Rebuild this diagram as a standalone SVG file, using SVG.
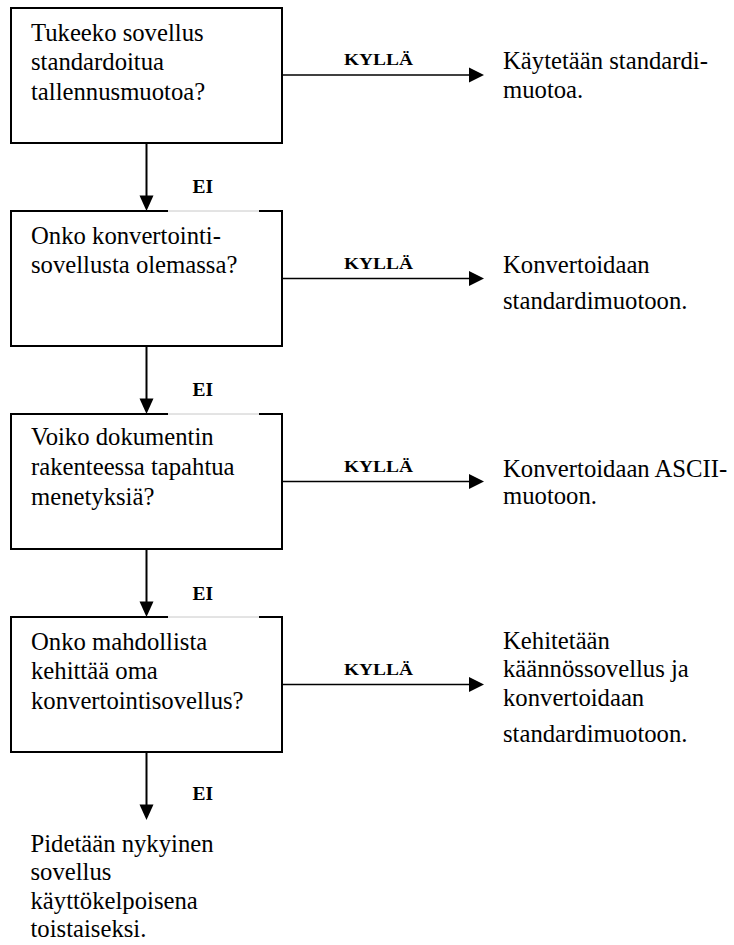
<svg xmlns="http://www.w3.org/2000/svg" width="734" height="945" viewBox="0 0 734 945">
<style>
.box{fill:#fff;stroke:#000;stroke-width:2}
.t{font-family:"Liberation Serif","Times New Roman",serif;font-size:24.7px;fill:#000}
.yes{font-family:"Liberation Serif","Times New Roman",serif;font-size:17.5px;font-weight:bold;fill:#000}
.no{font-family:"Liberation Serif","Times New Roman",serif;font-size:19.5px;font-weight:bold;fill:#000}
.ln{stroke:#000;stroke-width:2;fill:none}
.hl{stroke:#000;stroke-width:1.6;fill:none}
.gap{stroke:#fff;stroke-width:2.4}
.gapl{stroke:#c8c8c8;stroke-width:1}
.ah{fill:#000}
</style>
<rect width="734" height="945" fill="#fff"/>
<g id="connectors">
<line class="ln" x1="146.5" y1="143" x2="146.5" y2="197"/>
<polygon class="ah" points="139.5,195.5 153.5,195.5 146.5,211"/>
<line class="ln" x1="146.5" y1="346" x2="146.5" y2="400"/>
<polygon class="ah" points="139.5,398.5 153.5,398.5 146.5,414"/>
<line class="ln" x1="146.5" y1="549" x2="146.5" y2="603"/>
<polygon class="ah" points="139.5,601.5 153.5,601.5 146.5,617"/>
<line class="ln" x1="146.5" y1="752" x2="146.5" y2="806"/>
<polygon class="ah" points="139.5,804.5 153.5,804.5 146.5,820"/>
<line class="hl" x1="282" y1="75" x2="471" y2="75"/>
<polygon class="ah" points="469,67.5 484,75 469,82.5"/>
<line class="hl" x1="282" y1="278.5" x2="471" y2="278.5"/>
<polygon class="ah" points="469,271 484,278.5 469,286"/>
<line class="hl" x1="282" y1="481.5" x2="471" y2="481.5"/>
<polygon class="ah" points="469,474 484,481.5 469,489"/>
<line class="hl" x1="282" y1="684.5" x2="471" y2="684.5"/>
<polygon class="ah" points="469,677 484,684.5 469,692"/>
<text class="yes" x="344" y="65" textLength="69" lengthAdjust="spacingAndGlyphs">KYLLÄ</text>
<text class="yes" x="344" y="268.5" textLength="69" lengthAdjust="spacingAndGlyphs">KYLLÄ</text>
<text class="yes" x="344" y="472" textLength="69" lengthAdjust="spacingAndGlyphs">KYLLÄ</text>
<text class="yes" x="344" y="675" textLength="69" lengthAdjust="spacingAndGlyphs">KYLLÄ</text>
<text class="no" x="192.5" y="193">EI</text>
<text class="no" x="192.5" y="396">EI</text>
<text class="no" x="192.5" y="600">EI</text>
<text class="no" x="192.5" y="800">EI</text>
</g>
<g id="q1">
<rect class="box" x="11" y="8" width="271" height="135"/>
<text class="t" x="31" y="40.5">Tukeeko sovellus</text>
<text class="t" x="31" y="70">standardoitua</text>
<text class="t" x="31" y="100">tallennusmuotoa?</text>
</g>
<g id="q2">
<rect class="box" x="11" y="211" width="271" height="135"/>
<line class="gap" x1="168" y1="211" x2="259" y2="211"/>
<line class="gapl" x1="168" y1="211" x2="259" y2="211"/>
<text class="t" x="31" y="243.5">Onko konvertointi-</text>
<text class="t" x="31" y="273">sovellusta olemassa?</text>
</g>
<g id="q3">
<rect class="box" x="11" y="414" width="271" height="135"/>
<line class="gap" x1="168" y1="414" x2="259" y2="414"/>
<line class="gapl" x1="168" y1="414" x2="259" y2="414"/>
<text class="t" x="31" y="445">Voiko dokumentin</text>
<text class="t" x="31" y="475">rakenteessa tapahtua</text>
<text class="t" x="31" y="505">menetyksiä?</text>
</g>
<g id="q4">
<rect class="box" x="11" y="617" width="271" height="135"/>
<line class="gap" x1="168" y1="617" x2="259" y2="617"/>
<line class="gapl" x1="168" y1="617" x2="259" y2="617"/>
<text class="t" x="31" y="650">Onko mahdollista</text>
<text class="t" x="31" y="679">kehittää oma</text>
<text class="t" x="31" y="708.5">konvertointisovellus?</text>
</g>
<g id="a1">
<text class="t" x="503" y="69">Käytetään standardi-</text>
<text class="t" x="503" y="98">muotoa.</text>
</g>
<g id="a2">
<text class="t" x="503" y="272.5">Konvertoidaan</text>
<text class="t" x="503" y="308.5">standardimuotoon.</text>
</g>
<g id="a3">
<text class="t" x="503" y="476.5">Konvertoidaan ASCII-</text>
<text class="t" x="503" y="504">muotoon.</text>
</g>
<g id="a4">
<text class="t" x="503" y="649">Kehitetään</text>
<text class="t" x="503" y="677">käännössovellus ja</text>
<text class="t" x="503" y="706">konvertoidaan</text>
<text class="t" x="503" y="742">standardimuotoon.</text>
</g>
<g id="end">
<text class="t" x="30.5" y="852">Pidetään nykyinen</text>
<text class="t" x="30.5" y="880">sovellus</text>
<text class="t" x="30.5" y="908.5">käyttökelpoisena</text>
<text class="t" x="30.5" y="937">toistaiseksi.</text>
</g>
</svg>
